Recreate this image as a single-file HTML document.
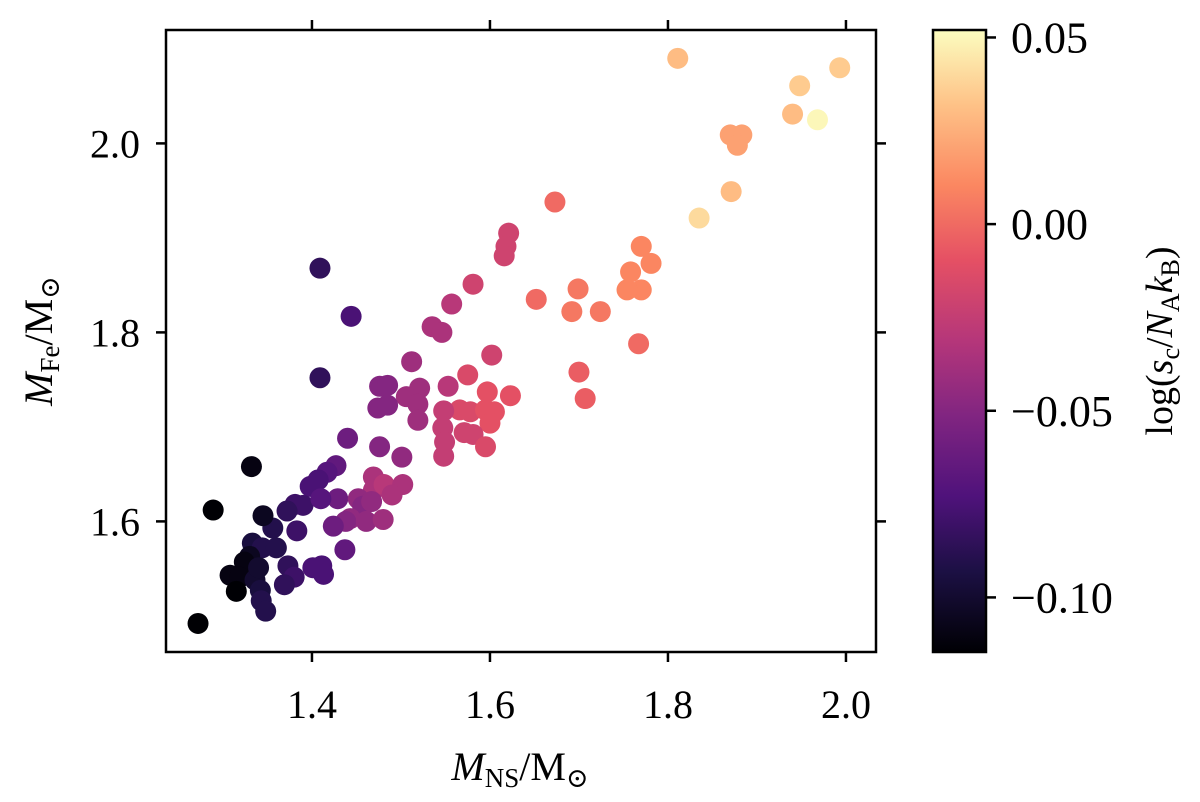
<!DOCTYPE html>
<html><head><meta charset="utf-8">
<style>
html,body{margin:0;padding:0;background:#fff;}
svg{display:block;font-family:"Liberation Serif","DejaVu Serif",serif;}
</style></head>
<body>
<svg id="chart" width="1200" height="802" viewBox="0 0 1200 802">
<defs>
<linearGradient id="magma" x1="0" y1="1" x2="0" y2="0">
<stop offset="0" stop-color="#000004"/><stop offset="0.13" stop-color="#1c1044"/>
<stop offset="0.25" stop-color="#4f127b"/><stop offset="0.38" stop-color="#812581"/>
<stop offset="0.5" stop-color="#b5367a"/><stop offset="0.63" stop-color="#e55064"/>
<stop offset="0.75" stop-color="#fb8761"/><stop offset="0.88" stop-color="#fec287"/>
<stop offset="1" stop-color="#fcfdbf"/>
</linearGradient>
</defs>
<g id="points"></g>
<rect x="166" y="30" width="710" height="622" fill="none" stroke="#000" stroke-width="2.5"/>
<g id="ticks"></g>
<text x="520" y="780" font-size="40" text-anchor="middle"><tspan font-style="italic">M</tspan><tspan font-size="27" dy="7">NS</tspan><tspan dy="-7">/M</tspan><tspan font-size="27" dy="7">⊙</tspan></text>
<text transform="translate(52,341) rotate(-90)" font-size="40" text-anchor="middle"><tspan font-style="italic">M</tspan><tspan font-size="27" dy="7">Fe</tspan><tspan dy="-7">/M</tspan><tspan font-size="27" dy="7">⊙</tspan></text>
<rect x="933" y="30" width="53" height="622" fill="url(#magma)" stroke="#000" stroke-width="2.5"/>
<g id="cticks"></g>
<text transform="translate(1172,341) rotate(-90)" font-size="38" text-anchor="middle">log(<tspan font-style="italic">s</tspan><tspan font-size="26" dy="7">c</tspan><tspan dy="-7">/</tspan><tspan font-style="italic">N</tspan><tspan font-size="26" dy="7">A</tspan><tspan dy="-7" font-style="italic">k</tspan><tspan font-size="26" dy="7">B</tspan><tspan dy="-7">)</tspan></text>
</svg>
<script>
const xTicks=[1.4,1.6,1.8,2.0];
const yTicks=[1.6,1.8,2.0];
const cTicks=[0.05,0.00,-0.05,-0.10];
const cTickLabels=["0.05","0.00","−0.05","−0.10"];
const mNS=[1.811,1.993,1.948,1.968,1.940,1.883,1.870,1.878,1.871,1.835,1.673,1.621,1.618,1.616,1.770,1.781,1.758,1.770,1.754,1.699,1.652,1.692,1.724,1.767,1.700,1.707,1.581,1.557,1.535,1.546,1.512,1.602,1.575,1.553,1.521,1.476,1.485,1.506,1.519,1.474,1.485,1.623,1.597,1.566,1.578,1.595,1.605,1.600,1.548,1.547,1.549,1.571,1.581,1.595,1.548,1.519,1.440,1.476,1.501,1.427,1.417,1.407,1.398,1.469,1.469,1.481,1.502,1.490,1.429,1.452,1.457,1.467,1.443,1.438,1.424,1.461,1.480,1.381,1.390,1.372,1.383,1.356,1.437,1.411,1.401,1.413,1.373,1.380,1.369,1.410,1.409,1.444,1.409,1.332,1.289,1.345,1.333,1.344,1.360,1.330,1.324,1.308,1.319,1.315,1.336,1.342,1.343,1.348,1.272,1.340];
const mFe=[2.090,2.080,2.061,2.025,2.031,2.009,2.009,1.998,1.949,1.921,1.938,1.905,1.891,1.881,1.891,1.873,1.864,1.845,1.845,1.846,1.835,1.822,1.822,1.788,1.758,1.730,1.851,1.830,1.806,1.800,1.769,1.776,1.755,1.743,1.741,1.743,1.744,1.732,1.724,1.720,1.723,1.733,1.737,1.718,1.716,1.718,1.716,1.704,1.717,1.699,1.684,1.694,1.692,1.679,1.669,1.707,1.688,1.679,1.668,1.659,1.652,1.644,1.637,1.647,1.633,1.639,1.639,1.628,1.624,1.624,1.616,1.621,1.603,1.600,1.595,1.600,1.602,1.618,1.617,1.611,1.590,1.593,1.570,1.553,1.551,1.544,1.553,1.541,1.533,1.624,1.868,1.817,1.752,1.658,1.612,1.606,1.577,1.572,1.572,1.563,1.557,1.543,1.541,1.526,1.538,1.527,1.516,1.505,1.492,1.551];
const logS=[0.03,0.035,0.035,0.05,0.03,0.02,0.02,0.02,0.03,0.04,0.0,-0.02,-0.02,-0.02,0.01,0.01,0.01,0.01,0.01,0.005,0.0,0.005,0.005,0.0,-0.005,-0.005,-0.02,-0.03,-0.035,-0.035,-0.04,-0.02,-0.015,-0.03,-0.04,-0.05,-0.05,-0.04,-0.04,-0.05,-0.05,-0.01,-0.01,-0.015,-0.015,-0.01,-0.01,-0.01,-0.025,-0.025,-0.025,-0.02,-0.02,-0.015,-0.025,-0.04,-0.06,-0.05,-0.045,-0.065,-0.07,-0.075,-0.075,-0.035,-0.035,-0.03,-0.035,-0.035,-0.06,-0.045,-0.05,-0.045,-0.045,-0.05,-0.06,-0.045,-0.04,-0.08,-0.08,-0.085,-0.08,-0.09,-0.065,-0.075,-0.075,-0.075,-0.085,-0.08,-0.085,-0.07,-0.085,-0.075,-0.085,-0.11,-0.115,-0.105,-0.095,-0.09,-0.09,-0.105,-0.11,-0.11,-0.11,-0.115,-0.1,-0.095,-0.09,-0.09,-0.115,-0.1];
const NS="http://www.w3.org/2000/svg";
const xS=v=>166+(v-1.236)*890;
const yS=v=>30+(2.12-v)*945;
const cY=v=>30+(0.052-v)*3733;
const stops=[[0,[0,0,4]],[0.13,[28,16,68]],[0.25,[79,18,123]],[0.38,[129,37,129]],[0.5,[181,54,122]],[0.63,[229,80,100]],[0.75,[251,135,97]],[0.88,[254,194,135]],[1,[252,253,191]]];
function magma(t){t=Math.max(0,Math.min(1,t));for(let i=1;i<stops.length;i++){if(t<=stops[i][0]){const a=stops[i-1],b=stops[i],f=(t-a[0])/(b[0]-a[0]);return "rgb("+a[1].map((v,k)=>Math.round(v+(b[1][k]-v)*f)).join(",")+")";}}return "rgb(252,253,191)";}
const cmin=-0.1145,cmax=0.052;
const pg=document.getElementById("points");
mNS.forEach((x,i)=>{const c=document.createElementNS(NS,"circle");
c.setAttribute("cx",xS(x));c.setAttribute("cy",yS(mFe[i]));c.setAttribute("r",10.5);
c.setAttribute("fill",magma((logS[i]-cmin)/(cmax-cmin)));


pg.appendChild(c);});
const tg=document.getElementById("ticks");
function line(g,x1,y1,x2,y2){const l=document.createElementNS(NS,"line");l.setAttribute("x1",x1);l.setAttribute("y1",y1);l.setAttribute("x2",x2);l.setAttribute("y2",y2);l.setAttribute("stroke","#000");l.setAttribute("stroke-width","2.5");g.appendChild(l);}
function txt(g,x,y,s,anchor,name,fs){const t=document.createElementNS(NS,"text");t.setAttribute("x",x);t.setAttribute("y",y);t.setAttribute("font-size",fs||"40");t.setAttribute("text-anchor",anchor);t.textContent=s;


g.appendChild(t);}
xTicks.forEach(v=>{const x=xS(v);line(tg,x,652,x,662);line(tg,x,30,x,20);txt(tg,x,718,v.toFixed(1),"middle","x-tick-label");});
yTicks.forEach(v=>{const y=yS(v);line(tg,166,y,156,y);line(tg,876,y,886,y);txt(tg,140,y+14,v.toFixed(1),"end","y-tick-label");});
const cg=document.getElementById("cticks");
cTicks.forEach((v,i)=>{const y=cY(v);line(cg,986,y,996,y);txt(cg,1011,y+15,cTickLabels[i],"start","colorbar-tick-label","44");});
</script>
</body></html>
